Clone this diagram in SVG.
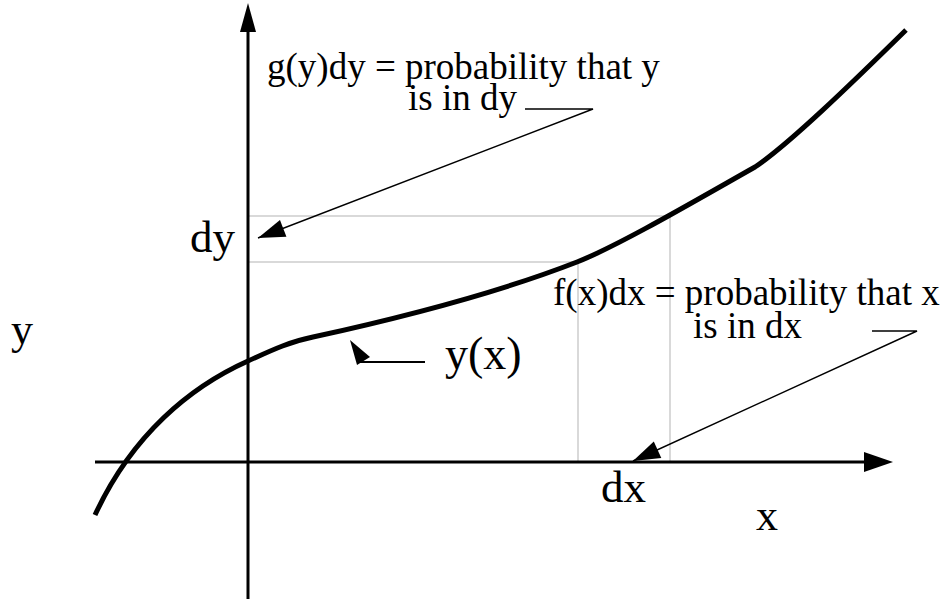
<svg xmlns="http://www.w3.org/2000/svg" width="948" height="602" viewBox="0 0 948 602">
<style>
text{font-family:"Liberation Serif","Times New Roman",serif;fill:#000}
.grid{stroke:#d9d9d9;stroke-width:2;fill:none}
.axis{stroke:#000;stroke-width:3;fill:none}
.lead{stroke:#000;stroke-width:1.4;fill:none}
.curve{stroke:#000;stroke-width:5;fill:none}
</style>
<defs>
<marker id="ah" markerUnits="userSpaceOnUse" markerWidth="30" markerHeight="20" viewBox="-28 -10 30 20" refX="0" refY="0" orient="auto">
<path d="M0,0 L-27,-9 L-27,9 Z" fill="#000"/>
</marker>
</defs>
<g id="grid">
<path class="grid" d="M248,216 H670 V462"/>
<path class="grid" d="M248,262 H578 V462"/>
</g>
<g id="axes">
<path class="axis" d="M248,599 V30"/>
<path d="M248,3 L240,32 L256,32 Z" fill="#000"/>
<path class="axis" d="M95,462 H866"/>
<path d="M893,462 L864,452 L864,472 Z" fill="#000"/>
</g>
<g id="curve">
<path class="curve" d="M95,515 C132,435 190,387 248,361 C268,352 288,342 313,337 C400,318 500,292 577,262 C620,245 700,198 755,167 C788,145 850,85 906,30"/>
</g>
<g id="connectors">
<polyline class="lead" points="525,109 593,109 258,238" marker-end="url(#ah)"/>
<polyline class="lead" points="872,331 917,331 633,461" marker-end="url(#ah)"/>
<line x1="425" y1="362" x2="360" y2="362" stroke="#000" stroke-width="2"/>
<path d="M350,340 L370,357 L357,365 Z" fill="#000"/>
</g>
<g id="labels">
<text x="267" y="79" font-size="37">g(y)dy = probability that y</text>
<text x="408" y="110" font-size="37">is in dy</text>
<text x="553" y="305" font-size="37">f(x)dx = probability that x</text>
<text x="693" y="338" font-size="37">is in dx</text>
<text x="190" y="252" font-size="45">dy</text>
<text x="11" y="344" font-size="44">y</text>
<text x="445" y="369" font-size="46">y(x)</text>
<text x="601" y="502" font-size="45">dx</text>
<text x="756" y="530" font-size="44">x</text>
</g>
</svg>
